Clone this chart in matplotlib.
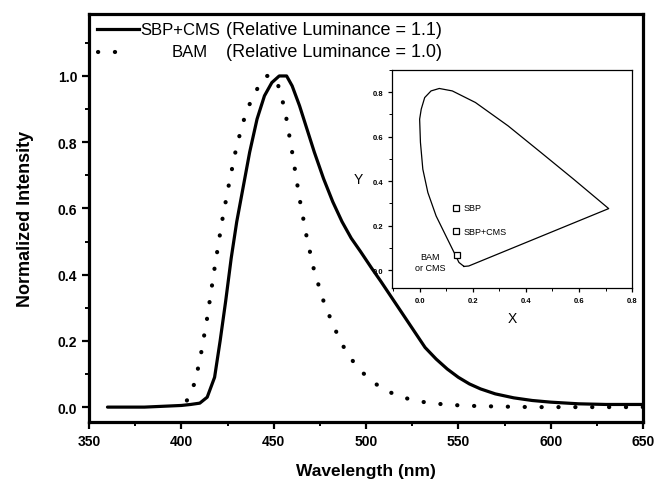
import matplotlib
matplotlib.use("Agg")
import matplotlib.pyplot as plt
from matplotlib.ticker import MultipleLocator

plt.rcParams['font.family'] = ['Liberation Sans', 'DejaVu Sans']

# emission spectra
wl_sbp = [360, 380, 400, 405, 410, 414, 418, 421, 424, 427, 430, 433, 437, 441, 445, 449,
          453, 457, 460, 464, 468, 472, 477, 482, 487, 492, 497, 503, 508, 514, 520, 526,
          532, 538, 544, 550, 556, 562, 570, 580, 590, 600, 615, 630, 650]
int_sbp = [0.0, 0.0, 0.005, 0.008, 0.012, 0.03, 0.09, 0.2, 0.32, 0.45, 0.56, 0.65, 0.77, 0.87, 0.94, 0.98,
           1.0, 1.0, 0.97, 0.91, 0.84, 0.77, 0.69, 0.62, 0.56, 0.51, 0.47, 0.42, 0.38, 0.33, 0.28, 0.23,
           0.18, 0.145, 0.115, 0.09, 0.07, 0.055, 0.04, 0.028, 0.02, 0.015, 0.01, 0.008, 0.008]

wl_bam = [403, 407, 410, 414, 418, 422, 426, 430, 434, 438, 442, 446, 449, 452, 456, 460,
          464, 468, 472, 477, 482, 487, 492, 498, 504, 510, 518, 526, 535, 545, 555, 570,
          590, 610, 630, 650]
int_bam = [0.02, 0.07, 0.14, 0.27, 0.42, 0.56, 0.68, 0.79, 0.87, 0.93, 0.97, 1.0, 1.0, 0.98, 0.9, 0.77,
           0.63, 0.51, 0.41, 0.32, 0.25, 0.19, 0.145, 0.105, 0.075, 0.052, 0.033, 0.02, 0.012, 0.007, 0.004, 0.002,
           0.0, 0.0, 0.0, 0.0]

# CIE locus
locus_x = [0.167, 0.148, 0.130, 0.099, 0.062, 0.031, 0.012, 0.003, 0.0, 0.006, 0.019, 0.043,
           0.074, 0.123, 0.21, 0.333, 0.457, 0.58, 0.712, 0.185, 0.167]
locus_y = [0.017, 0.035, 0.079, 0.154, 0.244, 0.349, 0.454, 0.575, 0.679, 0.724, 0.776, 0.806,
           0.817, 0.806, 0.754, 0.649, 0.529, 0.409, 0.277, 0.019, 0.017]

pt_names = ['SBP', 'SBP+CMS', 'BAM']
pt_x = [0.137, 0.137, 0.14]
pt_y = [0.28, 0.175, 0.067]

fig = plt.figure(figsize=(6.56, 4.85), dpi=100)
ax = fig.add_axes([0.1357, 0.1278, 0.8445, 0.8412])

dots = (0, (0.05, 4.0))
ax.plot(wl_sbp, int_sbp, color='black', lw=2.3, solid_capstyle='round')
ax.plot(wl_bam, int_bam, color='black', lw=3.0, linestyle=dots, dash_capstyle='round')

ax.set_xlim(350, 650)
ax.set_ylim(-0.045, 1.187)
ax.xaxis.set_major_locator(MultipleLocator(50))
ax.xaxis.set_minor_locator(MultipleLocator(25))
ax.yaxis.set_major_locator(MultipleLocator(0.2))
ax.yaxis.set_minor_locator(MultipleLocator(0.1))
ax.set_yticks([0.0, 0.2, 0.4, 0.6, 0.8, 1.0])
ax.tick_params(which='major', direction='out', length=5, width=1.6, labelsize=10)
ax.tick_params(which='minor', direction='out', length=3, width=1.4)
for lab in ax.get_xticklabels() + ax.get_yticklabels():
    lab.set_fontweight('bold')
for s in ax.spines.values():
    s.set_linewidth(2.3)

ax.set_xlabel('Wavelength (nm)', fontsize=12.5, fontweight='bold', labelpad=11)
ax.set_ylabel('Normalized Intensity', fontsize=13, fontweight='bold', labelpad=17)

# hand-drawn style legend
ax.plot([0.015, 0.09], [0.963, 0.963], transform=ax.transAxes, color='black', lw=2.3)
ax.plot([0.016, 0.068], [0.907, 0.907], transform=ax.transAxes, color='black', lw=3.0,
        linestyle=dots, dash_capstyle='round')
ax.text(0.092, 0.963, 'SBP+CMS', transform=ax.transAxes, fontsize=12, va='center')
ax.text(0.247, 0.963, '(Relative Luminance = 1.1)', transform=ax.transAxes, fontsize=13,
        va='center')
ax.text(0.150, 0.907, 'BAM', transform=ax.transAxes, fontsize=12, va='center')
ax.text(0.247, 0.907, '(Relative Luminance = 1.0)', transform=ax.transAxes, fontsize=13,
        va='center')

# inset CIE diagram
ins = fig.add_axes([0.5976, 0.4041, 0.3659, 0.4495])
ins.plot(locus_x, locus_y, color='black', lw=0.9)
ins.plot(pt_x, pt_y, linestyle='none', marker='s', ms=4, mfc='white', mec='black', mew=0.9)
ins.text(pt_x[0] + 0.03, pt_y[0], pt_names[0], fontsize=6.5, va='center')
ins.text(pt_x[1] + 0.03, pt_y[1], pt_names[1], fontsize=6.5, va='center')
ins.text(pt_x[2] - 0.10, pt_y[2] - 0.03, pt_names[2] + '\nor CMS', fontsize=6.5, va='center',
         ha='center', linespacing=1.4)
ins.set_xlim(-0.104, 0.785)
ins.set_ylim(-0.08, 0.9)
ins.set_xticks([0.0, 0.2, 0.4, 0.6, 0.8])
ins.set_yticks([0.0, 0.2, 0.4, 0.6, 0.8])
ins.xaxis.set_minor_locator(MultipleLocator(0.1))
ins.yaxis.set_minor_locator(MultipleLocator(0.1))
ins.tick_params(which='major', direction='out', length=3, width=0.9, labelsize=5.5)
ins.tick_params(which='minor', direction='out', length=2, width=0.7)
for lab in ins.get_xticklabels() + ins.get_yticklabels():
    lab.set_fontweight('bold')
for s in ins.spines.values():
    s.set_linewidth(0.9)
ins.set_xlabel('X', fontsize=10, labelpad=5)
ins.set_ylabel('Y', fontsize=10, rotation=0, labelpad=10, va='center')

fig.savefig('out.png', dpi=100)
